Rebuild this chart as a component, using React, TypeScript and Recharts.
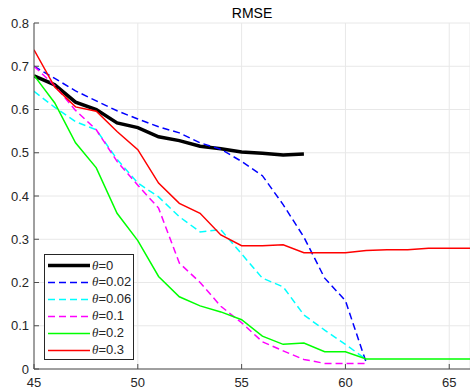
import React from 'react';
import { LineChart, Line, XAxis, YAxis, CartesianGrid } from 'recharts';

const xValues = [45, 46, 47, 48, 49, 50, 51, 52, 53, 54, 55, 56, 57, 58, 59, 60, 61, 62, 63, 64, 65, 66];
const theta0 = [0.678, 0.657, 0.617, 0.6, 0.569, 0.558, 0.537, 0.528, 0.515, 0.509, 0.502, 0.499, 0.495, 0.497];
const theta002 = [0.7, 0.672, 0.643, 0.62, 0.597, 0.578, 0.56, 0.546, 0.523, 0.508, 0.48, 0.447, 0.38, 0.305, 0.21, 0.158, 0.015];
const theta006 = [0.642, 0.605, 0.572, 0.553, 0.485, 0.43, 0.398, 0.352, 0.317, 0.322, 0.266, 0.21, 0.19, 0.125, 0.09, 0.057, 0.022];
const theta01 = [0.7, 0.655, 0.598, 0.553, 0.48, 0.425, 0.372, 0.245, 0.2, 0.145, 0.107, 0.063, 0.042, 0.022, 0.013, 0.013, 0.013];
const theta02 = [0.679, 0.615, 0.523, 0.465, 0.36, 0.297, 0.214, 0.167, 0.146, 0.132, 0.114, 0.076, 0.057, 0.06, 0.04, 0.04, 0.023, 0.023, 0.023, 0.023, 0.023, 0.023];
const theta03 = [0.738, 0.652, 0.606, 0.596, 0.549, 0.507, 0.43, 0.383, 0.36, 0.31, 0.285, 0.285, 0.287, 0.269, 0.269, 0.269, 0.274, 0.276, 0.276, 0.279, 0.279, 0.279];
const xTicks = [45, 50, 55, 60, 65];
const yTicks = [0, 0.1, 0.2, 0.3, 0.4, 0.5, 0.6, 0.7, 0.8];

const seriesDefs = [
  { key: 't0', label: '0', values: theta0, color: '#000000', width: 3.5, dash: undefined as string | undefined },
  { key: 't002', label: '0.02', values: theta002, color: '#0000ff', width: 1.5, dash: '7 4' },
  { key: 't006', label: '0.06', values: theta006, color: '#00ffff', width: 1.5, dash: '7 4' },
  { key: 't01', label: '0.1', values: theta01, color: '#ff00ff', width: 1.5, dash: '7 4' },
  { key: 't02', label: '0.2', values: theta02, color: '#00ff00', width: 1.5, dash: undefined },
  { key: 't03', label: '0.3', values: theta03, color: '#ff0000', width: 1.5, dash: undefined },
];

const data = xValues.map((x, i) => {
  const row: Record<string, number | null> = { x };
  seriesDefs.forEach((s) => {
    row[s.key] = i < s.values.length ? s.values[i] : null;
  });
  return row;
});

const font = '"Liberation Sans", Arial, sans-serif';
const tickStyle = { fontSize: 13, fill: '#262626', fontFamily: font };
const axisColor = '#4d4d4d';

export default function App() {
  return (
    <div style={{ position: 'absolute', left: 0, top: 0, width: 470, height: 390, background: '#fff', fontFamily: font }}>
      <LineChart width={470} height={390} data={data} margin={{ top: 23, right: 0, bottom: 0, left: 0 }}>
        <CartesianGrid stroke="#e8e8e8" strokeWidth={1} />
        <XAxis
          dataKey="x"
          type="number"
          domain={[45, 66]}
          ticks={xTicks}
          allowDataOverflow
          height={21}
          tickSize={-5}
          tickMargin={14}
          tick={tickStyle}
          stroke={axisColor}
          tickLine={{ stroke: axisColor }}
          axisLine={{ stroke: axisColor }}
        />
        <XAxis
          xAxisId="top"
          dataKey="x"
          type="number"
          orientation="top"
          domain={[45, 66]}
          ticks={xTicks}
          height={0}
          mirror
          tickSize={5}
          tick={<g />}
          stroke="#888"
        />
        <YAxis
          type="number"
          domain={[0, 0.8]}
          ticks={yTicks}
          width={34}
          tickSize={-5}
          tickMargin={10}
          tick={tickStyle}
          tickFormatter={(v: number) => String(Math.round(v * 10) / 10)}
          stroke={axisColor}
          tickLine={{ stroke: axisColor }}
          axisLine={{ stroke: axisColor }}
        />
        <YAxis
          yAxisId="right"
          orientation="right"
          type="number"
          domain={[0, 0.8]}
          ticks={yTicks}
          width={0}
          mirror
          tickSize={5}
          tick={<g />}
          stroke="#999"
          axisLine={false}
        />
        {seriesDefs.map((s) => (
          <Line
            key={s.key}
            dataKey={s.key}
            type="linear"
            stroke={s.color}
            strokeWidth={s.width}
            strokeDasharray={s.dash}
            dot={false}
            activeDot={false}
            isAnimationActive={false}
            connectNulls={false}
          />
        ))}
      </LineChart>
      <div style={{ position: 'absolute', left: 0, width: 504, top: 5, textAlign: 'center', fontSize: 14, color: '#000', lineHeight: '16px' }}>RMSE</div>
      <div style={{ position: 'absolute', left: 44, top: 254, width: 88, height: 104, border: '1px solid #262626', background: '#fff' }}>
        {seriesDefs.map((s, i) => (
          <div key={s.key} style={{ position: 'absolute', left: 0, top: 2 + i * 16.9, height: 17, width: 88, display: 'flex', alignItems: 'center' }}>
            <svg width={46} height={17} style={{ display: 'block' }}>
              <line x1={3} x2={45} y1={8.5} y2={8.5} stroke={s.color} strokeWidth={s.width} strokeDasharray={s.dash} />
            </svg>
            <span style={{ fontSize: 13, color: '#262626', whiteSpace: 'nowrap', marginLeft: 1 }}>
              <i style={{ fontFamily: '"Liberation Serif", serif' }}>θ</i>={s.label}
            </span>
          </div>
        ))}
      </div>
    </div>
  );
}
